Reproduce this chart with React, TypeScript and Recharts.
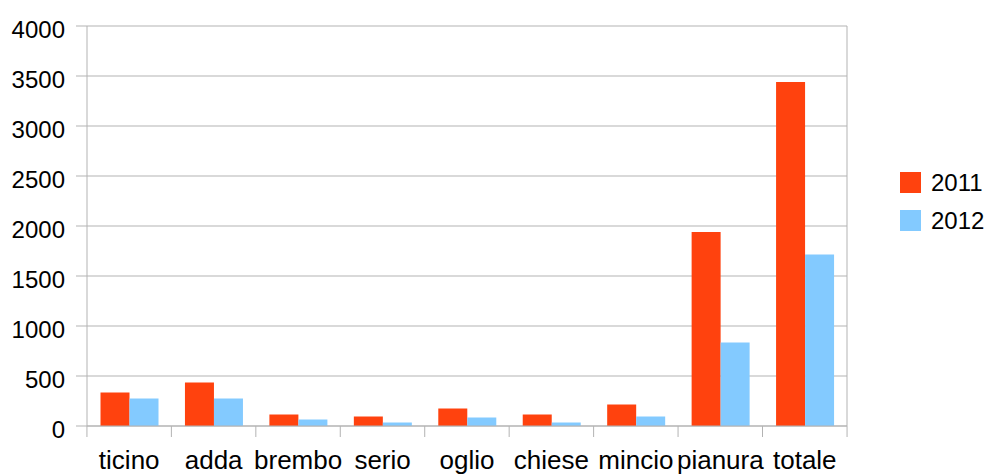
import { BarChart, Bar, XAxis, YAxis, CartesianGrid } from 'recharts';

const categories = ['ticino', 'adda', 'brembo', 'serio', 'oglio', 'chiese', 'mincio', 'pianura', 'totale'];
const values2011 = [335, 435, 115, 95, 175, 115, 215, 1940, 3440];
const values2012 = [275, 275, 65, 35, 85, 35, 95, 835, 1715];
const yTicks = [0, 500, 1000, 1500, 2000, 2500, 3000, 3500, 4000];

const series = [
    { key: 'y2011', name: '2011', color: '#ff420e', values: values2011 },
    { key: 'y2012', name: '2012', color: '#83caff', values: values2012 },
];

const W = 988;
const H = 474;
const MARGIN = { top: 26, right: 140, bottom: 0, left: 0 };
const Y_W = 87;
const X_H = 48;
const PLOT_W = W - MARGIN.left - MARGIN.right - Y_W;
const GRID = '#b3b3b3';
const FONT = '"Liberation Sans", Arial, sans-serif';

const data = categories.map((name, i) => ({
    name,
    y2011: values2011[i],
    y2012: values2012[i],
}));

// tick marks sit on the category boundaries, labels in the middle
const CategoryTick = (props: any) => {
    const { x, y, index, payload } = props;
    const half = PLOT_W / categories.length / 2;
    const last = index === categories.length - 1;
    return (
        <g>
            <line x1={x - half} x2={x - half} y1={y - 11} y2={y} stroke={GRID} />
            {last && <line x1={x + half} x2={x + half} y1={y - 11} y2={y} stroke={GRID} />}
            <text x={x} y={y + 32} textAnchor="middle" fill="#000" fontSize={26} fontFamily={FONT}>
                {payload.value}
            </text>
        </g>
    );
};

export default function App() {
    return (
        <div style={{ position: 'absolute', left: 0, top: 0, width: W, height: H, background: '#fff' }}>
            <BarChart width={W} height={H} data={data} margin={MARGIN} barGap={0} barCategoryGap="16%">
                <CartesianGrid vertical={false} stroke={GRID} yAxisId="left" />
                <XAxis
                    dataKey="name"
                    height={X_H}
                    axisLine={{ stroke: GRID }}
                    tickLine={false}
                    tickSize={11}
                    tickMargin={0}
                    interval={0}
                    tick={<CategoryTick />}
                />
                <YAxis
                    yAxisId="left"
                    width={Y_W}
                    domain={[0, 4000]}
                    ticks={yTicks}
                    axisLine={{ stroke: GRID }}
                    tickLine={{ stroke: GRID }}
                    tickSize={11}
                    tickMargin={11}
                    tick={{ fill: '#000', fontSize: 24, fontFamily: FONT, dy: 3 }}
                />
                <YAxis
                    yAxisId="right"
                    orientation="right"
                    width={1}
                    domain={[0, 4000]}
                    tick={false}
                    tickLine={false}
                    axisLine={{ stroke: GRID }}
                />
                {series.map(s => (
                    <Bar key={s.key} yAxisId="left" dataKey={s.key} name={s.name} fill={s.color} isAnimationActive={false} />
                ))}
            </BarChart>
            <div style={{ position: 'absolute', left: 900, top: 172, fontFamily: FONT, fontSize: 24, color: '#000' }}>
                {series.map(s => (
                    <div key={s.key} style={{ display: 'flex', alignItems: 'center', height: 21, marginBottom: 17 }}>
                        <span style={{ width: 21, height: 21, background: s.color, display: 'inline-block', marginRight: 10 }} />
                        <span style={{ lineHeight: '21px' }}>{s.name}</span>
                    </div>
                ))}
            </div>
        </div>
    );
}
